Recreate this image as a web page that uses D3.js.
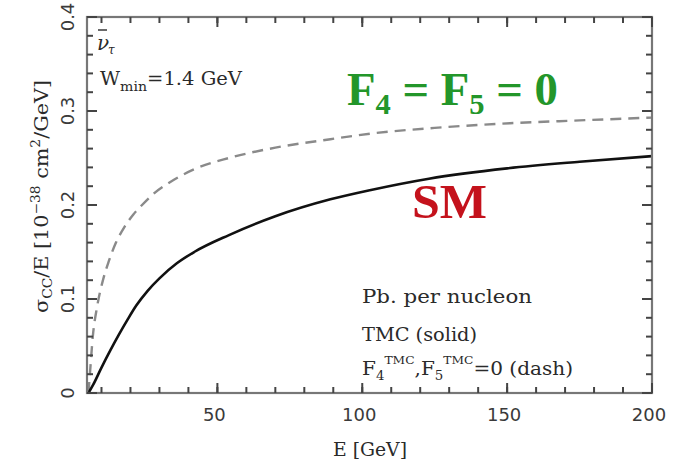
<!DOCTYPE html>
<html>
<head>
<meta charset="utf-8">
<script src="https://cdn.jsdelivr.net/npm/d3@7"></script>
<style>
  body { margin: 0; background: #fff; }
  svg text { font-family: "DejaVu Serif", "Liberation Serif", serif; fill: #2a2a2a; }
  .tick-label { font-family: "DejaVu Sans", "Liberation Sans", sans-serif; font-size: 18px; fill: #3a3a3a; }
  .big { font-family: "Liberation Serif", "DejaVu Serif", serif; font-weight: bold; }
</style>
</head>
<body>
<div id="chart"></div>
<script>
var svgWidth = 681;
var svgHeight = 466;

var margin = { top: 17, right: 29, bottom: 73, left: 87 };
var plotWidth = svgWidth - margin.left - margin.right;
var plotHeight = svgHeight - margin.top - margin.bottom;

// SM / TMC (solid)
var smEnergy = [5.5, 7, 10, 13, 16, 19, 22, 26, 30, 36, 42, 54, 70, 89, 103, 123, 150, 175, 200];
var smValue = [0, 0.008, 0.027, 0.045, 0.062, 0.078, 0.093, 0.109, 0.122, 0.138, 0.15, 0.168, 0.188, 0.206, 0.216, 0.228, 0.239, 0.246, 0.252];

// F4 = F5 = 0 (dash)
var f45Energy = [5.5, 6, 7, 8.5, 10.5, 12.5, 15, 18, 21, 24, 28, 33, 42, 54, 70, 89, 103, 125, 151, 175, 200];
var f45Value = [0, 0.02, 0.06, 0.092, 0.12, 0.14, 0.16, 0.177, 0.19, 0.2, 0.212, 0.223, 0.238, 0.25, 0.261, 0.27, 0.276, 0.282, 0.287, 0.29, 0.293];

var xTicks = [50, 100, 150, 200];
var yTicks = [0, 0.1, 0.2, 0.3, 0.4];
var xMinor = d3.range(10, 200, 10);
var yMinor = d3.range(1, 20).map(i => i * 0.02);

var svg = d3.select("#chart")
  .append("svg")
  .attr("width", svgWidth)
  .attr("height", svgHeight);

var chartGroup = svg.append("g")
  .attr("transform", `translate(${margin.left}, ${margin.top})`);

var xScale = d3.scaleLinear().domain([5, 200]).range([0, plotWidth]);
var yScale = d3.scaleLinear().domain([0, 0.4]).range([plotHeight, 0]);

// tick labels
chartGroup.selectAll(".xlab")
  .data(xTicks)
  .enter()
  .append("text")
  .attr("class", "tick-label")
  .attr("x", d => xScale(d) - 3)
  .attr("y", plotHeight + 28)
  .attr("text-anchor", "middle")
  .text(d => d);

chartGroup.selectAll(".ylab")
  .data(yTicks)
  .enter()
  .append("text")
  .attr("class", "tick-label")
  .attr("transform", d => `translate(-13, ${yScale(d)}) rotate(-90)`)
  .attr("text-anchor", "middle")
  .text(d => d === 0 ? "0" : d3.format(".1f")(d));

// curves
var lineGen = d3.line()
  .x(d => xScale(d[0]))
  .y(d => yScale(d[1]))
  .curve(d3.curveMonotoneX);

chartGroup.append("path")
  .datum(d3.zip(f45Energy, f45Value))
  .attr("d", lineGen)
  .attr("fill", "none")
  .attr("stroke", "#8a8a8a")
  .attr("stroke-width", 2.4)
  .attr("stroke-dasharray", "11,7");

chartGroup.append("path")
  .datum(d3.zip(smEnergy, smValue))
  .attr("d", lineGen)
  .attr("fill", "none")
  .attr("stroke", "#111")
  .attr("stroke-width", 2.6);

// frame
chartGroup.append("rect")
  .attr("width", plotWidth)
  .attr("height", plotHeight)
  .attr("fill", "none")
  .attr("stroke", "#777")
  .attr("stroke-width", 2.2);

// inward ticks on all four sides
function addTicks(values, len, horizontal) {
  values.forEach(function (d) {
    if (horizontal) {
      var x = xScale(d);
      chartGroup.append("line").attr("x1", x).attr("x2", x).attr("y1", plotHeight).attr("y2", plotHeight - len)
        .attr("stroke", "#444").attr("stroke-width", 2);
      chartGroup.append("line").attr("x1", x).attr("x2", x).attr("y1", 0).attr("y2", len)
        .attr("stroke", "#444").attr("stroke-width", 2);
    } else {
      var y = yScale(d);
      chartGroup.append("line").attr("x1", 0).attr("x2", len).attr("y1", y).attr("y2", y)
        .attr("stroke", "#444").attr("stroke-width", 2);
      chartGroup.append("line").attr("x1", plotWidth).attr("x2", plotWidth - len).attr("y1", y).attr("y2", y)
        .attr("stroke", "#444").attr("stroke-width", 2);
    }
  });
}
addTicks(xMinor, 6, true);
addTicks(xTicks, 10, true);
addTicks(yMinor, 6, false);
addTicks(yTicks, 10, false);

// axis titles
svg.append("text")
  .attr("x", 333)
  .attr("y", 456)
  .attr("textLength", 74)
  .attr("lengthAdjust", "spacingAndGlyphs")
  .style("font-size", "18px")
  .text("E [GeV]");

var yTitle = svg.append("text")
  .attr("transform", "translate(48, 313) rotate(-90)")
  .attr("textLength", 233)
  .attr("lengthAdjust", "spacingAndGlyphs")
  .style("font-size", "18px");
yTitle.append("tspan").text("σ");
yTitle.append("tspan").attr("dy", 4).style("font-size", "12px").text("CC");
yTitle.append("tspan").attr("dy", -4).text("/E [10");
yTitle.append("tspan").attr("dy", -8).style("font-size", "12px").text("−38");
yTitle.append("tspan").attr("dy", 8).text(" cm");
yTitle.append("tspan").attr("dy", -8).style("font-size", "12px").text("2");
yTitle.append("tspan").attr("dy", 8).text("/GeV]");

// in-plot labels
svg.append("text")
  .attr("x", 97)
  .attr("y", 50)
  .style("font-size", "20px")
  .style("font-style", "italic")
  .text("ν");
svg.append("line")
  .attr("x1", 98).attr("x2", 107)
  .attr("y1", 30).attr("y2", 30)
  .attr("stroke", "#2a2a2a")
  .attr("stroke-width", 1.4);
svg.append("text")
  .attr("x", 108)
  .attr("y", 54)
  .style("font-size", "12px")
  .style("font-style", "italic")
  .text("τ");

var wmin = svg.append("text")
  .attr("x", 100)
  .attr("y", 85)
  .attr("textLength", 142)
  .attr("lengthAdjust", "spacingAndGlyphs")
  .style("font-size", "18px");
wmin.append("tspan").text("W");
wmin.append("tspan").attr("dy", 6).style("font-size", "13px").text("min");
wmin.append("tspan").attr("dy", -6).text("=1.4  GeV");

var green = svg.append("text")
  .attr("class", "big")
  .attr("x", 347)
  .attr("y", 105)
  .attr("textLength", 211)
  .attr("lengthAdjust", "spacingAndGlyphs")
  .style("font-size", "46px")
  .style("fill", "#23962a");
green.append("tspan").text("F");
green.append("tspan").attr("dy", 9).style("font-size", "30px").text("4");
green.append("tspan").attr("dy", -9).text(" = F");
green.append("tspan").attr("dy", 9).style("font-size", "30px").text("5");
green.append("tspan").attr("dy", -9).text(" = 0");

svg.append("text")
  .attr("class", "big")
  .attr("x", 412)
  .attr("y", 218)
  .attr("textLength", 75)
  .attr("lengthAdjust", "spacingAndGlyphs")
  .style("font-size", "48px")
  .style("fill", "#c4121c")
  .text("SM");

svg.append("text")
  .attr("x", 362)
  .attr("y", 303)
  .attr("textLength", 170)
  .attr("lengthAdjust", "spacingAndGlyphs")
  .style("font-size", "18px")
  .text("Pb. per nucleon");

svg.append("text")
  .attr("x", 362)
  .attr("y", 341)
  .attr("textLength", 115)
  .attr("lengthAdjust", "spacingAndGlyphs")
  .style("font-size", "18px")
  .text("TMC (solid)");

var dashNote = svg.append("text")
  .attr("x", 362)
  .attr("y", 375)
  .attr("textLength", 211)
  .attr("lengthAdjust", "spacingAndGlyphs")
  .style("font-size", "18px");
dashNote.append("tspan").text("F");
dashNote.append("tspan").attr("dy", 5).style("font-size", "12px").text("4");
dashNote.append("tspan").attr("dy", -16).style("font-size", "11px").text("TMC");
dashNote.append("tspan").attr("dy", 11).text(",F");
dashNote.append("tspan").attr("dy", 5).style("font-size", "12px").text("5");
dashNote.append("tspan").attr("dy", -16).style("font-size", "11px").text("TMC");
dashNote.append("tspan").attr("dy", 11).text("=0 (dash)");
</script>
</body>
</html>
